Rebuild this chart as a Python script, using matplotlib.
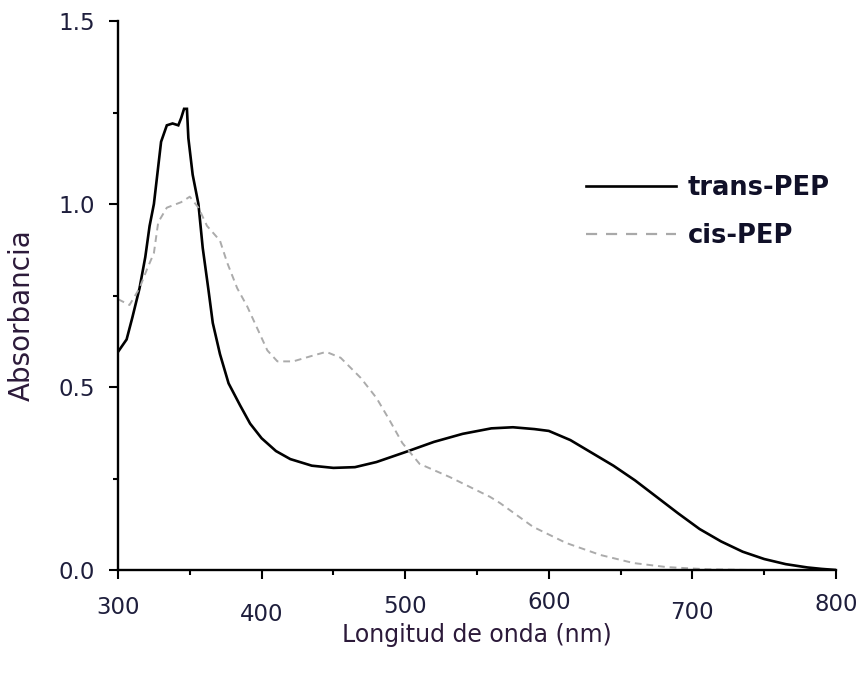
import matplotlib
matplotlib.use("Agg")
import matplotlib.pyplot as plt
from matplotlib.lines import Line2D
from matplotlib.ticker import MultipleLocator
from matplotlib.transforms import ScaledTranslation

# Absorption spectra of the two PEP isomers
wl_trans = [300, 306, 310, 315, 319, 322, 325, 330, 334, 338, 342, 344, 346, 348,
            349, 352, 356, 359, 363, 366, 371, 377, 385, 392, 400, 410, 420, 435,
            450, 465, 480, 500, 520, 540, 560, 575, 590, 600, 615, 630, 645, 660,
            675, 690, 705, 720, 735, 750, 765, 780, 790, 800]
abs_trans = [0.596, 0.63, 0.69, 0.77, 0.855, 0.94, 1.00, 1.17, 1.215, 1.22, 1.215,
             1.235, 1.26, 1.26, 1.18, 1.08, 1.00, 0.88, 0.765, 0.675, 0.59, 0.51,
             0.45, 0.40, 0.36, 0.325, 0.303, 0.285, 0.279, 0.281, 0.295, 0.322,
             0.35, 0.372, 0.387, 0.39, 0.385, 0.38, 0.355, 0.32, 0.285, 0.245,
             0.20, 0.155, 0.112, 0.078, 0.05, 0.03, 0.016, 0.007, 0.003, 0.0]

wl_cis = [300, 308, 315, 320, 325, 328, 334, 344, 350, 356, 362, 371, 376, 383,
          390, 397, 404, 411, 422, 435, 445, 455, 469, 480, 489, 498, 510, 531,
          559, 566, 589, 612, 636, 659, 682, 710, 740, 800]
abs_cis = [0.74, 0.724, 0.77, 0.82, 0.866, 0.95, 0.99, 1.005, 1.02, 0.99, 0.94,
           0.90, 0.84, 0.77, 0.72, 0.66, 0.60, 0.57, 0.57, 0.585, 0.596, 0.58,
           0.525, 0.47, 0.41, 0.347, 0.29, 0.254, 0.20, 0.183, 0.118, 0.074,
           0.041, 0.019, 0.008, 0.002, 0.0, 0.0]

series_labels = ["trans-PEP", "cis-PEP"]
x_ticks = [300, 400, 500, 600, 700, 800]
y_ticks = [0.0, 0.5, 1.0, 1.5]
x_label = "Longitud de onda (nm)"
y_label = "Absorbancia"

text_color = "#1e1e3c"
label_color = "#2c1a3a"

W, H = 863, 679
ax_left, ax_right, ax_top, ax_bottom = 118, 836, 21, 570
ax_w = ax_right - ax_left
ax_h = ax_bottom - ax_top

fig = plt.figure(figsize=(W / 100, H / 100), dpi=100)
ax = fig.add_axes([ax_left / W, 1 - ax_bottom / H, ax_w / W, ax_h / H])

ax.plot(wl_trans, abs_trans, color="black", lw=1.9, solid_joinstyle="miter")
ax.plot(wl_cis, abs_cis, color="#ababab", lw=1.4, linestyle=(0, (3.5, 2.5)))

ax.set_xlim(300, 800)
ax.set_ylim(0, 1.5)
ax.set_xticks(x_ticks)
ax.set_yticks(y_ticks)
ax.set_xticklabels([str(v) for v in x_ticks])
ax.set_yticklabels([f"{v:.1f}" for v in y_ticks])
ax.xaxis.set_minor_locator(MultipleLocator(50))
ax.yaxis.set_minor_locator(MultipleLocator(0.25))

for side in ("top", "right"):
    ax.spines[side].set_visible(False)
for side in ("left", "bottom"):
    ax.spines[side].set_linewidth(1.7)
    ax.spines[side].set_color("black")

ax.tick_params(which="major", direction="out", length=6.5, width=1.5,
               labelsize=16.5, labelcolor=text_color, color="black")
ax.tick_params(which="minor", direction="out", length=3.5, width=1.5, color="black")
ax.tick_params(axis="x", which="major", pad=10)
ax.tick_params(axis="y", which="major", pad=10)

# slight vertical stagger of the wavelength labels
x_shift_px = [3, 10, 2, -2, 8, 0]
for lab, dy in zip(ax.get_xticklabels(), x_shift_px):
    lab.set_transform(lab.get_transform() + ScaledTranslation(0, -dy / 100, fig.dpi_scale_trans))

ax.set_xlabel(x_label, fontsize=17, color=label_color)
ax.xaxis.set_label_coords(0.5, -(623 - ax_bottom) / ax_h)
ax.set_ylabel(y_label, fontsize=20, color=label_color)
ax.yaxis.set_label_coords((36 - ax_left) / ax_w, (ax_bottom - 315) / ax_h)

handles = [Line2D([], [], color="black", lw=1.9),
           Line2D([], [], color="#a9a9a9", lw=1.6, linestyle=(0, (5, 4)))]
leg = fig.legend(handles, series_labels, loc="upper left",
                 bbox_to_anchor=(586 / W, 1 - 175 / H), frameon=False,
                 borderpad=0, borderaxespad=0, handlelength=3.5, handletextpad=0.45,
                 labelspacing=0.85, prop={"size": 18.5, "weight": "bold"})
for t in leg.get_texts():
    t.set_color("#101028")

fig.savefig("out.png", dpi=100, facecolor="white")
